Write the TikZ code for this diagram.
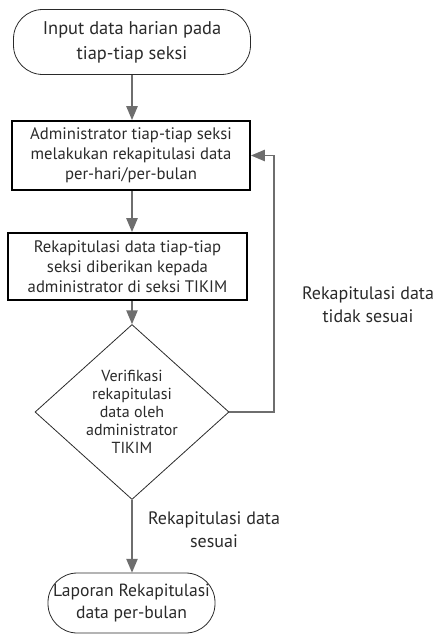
\documentclass[tikz,border=0pt]{standalone}
\usepackage{fontspec}
\setmainfont{PT Sans}
\usetikzlibrary{arrows,shapes.geometric}
\definecolor{linegray}{HTML}{6E6E6E}
\definecolor{txtgray}{HTML}{2A2A2A}
\tikzset{
	terminal/.style={draw=txtgray, line width=0.6pt, rectangle, rounded corners=22pt, align=center, text=txtgray, font=\fontsize{13.8}{18.5}\selectfont},
	process/.style={draw=black, line width=1.5pt, rectangle, align=center, text=txtgray, font=\fontsize{12.5}{15}\selectfont},
	decision/.style={draw=txtgray, line width=0.6pt, diamond, align=center, text=txtgray, inner sep=0pt, font=\fontsize{12}{13.5}\selectfont},
	note/.style={align=center, text=txtgray, font=\fontsize{13.5}{17}\selectfont},
	arr/.style={draw=linegray, line width=1.4pt, -triangle 45}
}

\begin{document}
\begin{tikzpicture}[x=0.75pt,y=-0.75pt]
		\useasboundingbox (0,0) rectangle (437,635);
		\node[terminal, minimum width=237*0.75pt, minimum height=65*0.75pt] (input) at (132,42) {Input data harian pada\\tiap-tiap seksi};
		\node[process, minimum width=238*0.75pt, minimum height=69*0.75pt] (rekap) at (131,155.5) {Administrator tiap-tiap seksi\\melakukan rekapitulasi data\\per-hari/per-bulan};
		\node[process, minimum width=239*0.75pt, minimum height=67*0.75pt] (kirim) at (127.5,266.5) {Rekapitulasi data tiap-tiap\\seksi diberikan kepada\\administrator di seksi TIKIM};
		\node[decision, minimum width=194*0.75pt, minimum height=145*0.75pt] (verif) at (132,412) {Verifikasi\\rekapitulasi\\data oleh\\administrator\\TIKIM};
		\node[terminal, font=\fontsize{13.2}{17}\selectfont, minimum width=167*0.75pt, minimum height=60*0.75pt] (laporan) at (131.5,603) {Laporan Rekapitulasi\\data per-bulan};
		\coordinate (balik) at (274,0);
		\node[note] (tidak) at (368,305) {Rekapitulasi data\\tidak sesuai};
		\node[note] (sesuai) at (214,530) {Rekapitulasi data\\sesuai};
		\draw[arr] (input.south -| verif.north) -- (verif.north |- rekap.north);
		\draw[arr] (rekap.south -| verif.north) -- (verif.north |- kirim.north);
		\draw[arr] (kirim.south -| verif.north) -- (verif.north);
		\draw[arr] (verif.south) -- (verif.south |- laporan.north);
		\draw[arr] (verif.east) -- (verif.east -| balik) |- (rekap.east);
		\end{tikzpicture}
\end{document}
